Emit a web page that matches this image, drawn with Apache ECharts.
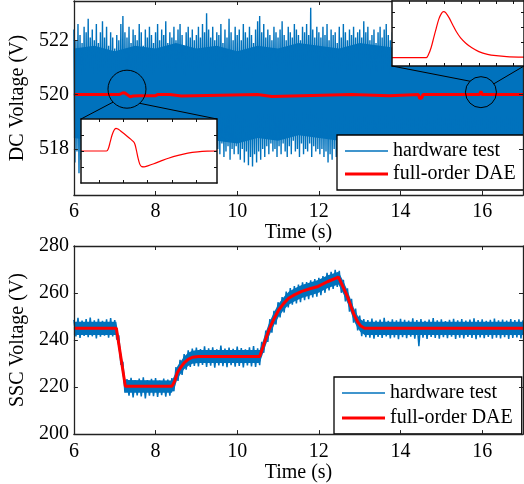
<!DOCTYPE html>
<html><head><meta charset="utf-8">
<script src="https://cdn.jsdelivr.net/npm/echarts@6/dist/echarts.min.js"></script>
<style>html,body{margin:0;padding:0;background:#fff}#c{width:524px;height:484px}</style>
</head><body><div id="c"></div>
<script>
// ---------- DATA ----------
// DC plot: envelope samples of the noisy hardware-test signal, one every 0.05 s from 6.0 s to 17.0 s
const dcStart = 6, dcStep = 0.05;
const dcHigh = [
  522.4,522.0,522.6,522.2,521.9,522.5,522.3,522.8,522.1,522.4,522.0,522.6,521.9,522.3,522.7,522.1,522.5,521.8,522.3,522.1,
  521.7,522.2,522.0,522.6,522.9,522.3,522.1,522.5,521.9,522.4,522.2,522.0,522.6,522.3,521.8,522.4,522.1,522.5,522.2,521.9,
  522.3,522.6,522.0,522.4,522.2,522.7,521.9,522.3,522.1,522.5,522.0,522.4,522.6,522.2,521.8,522.3,522.5,522.1,522.4,522.0,
  522.2,522.5,522.1,522.6,522.3,523.0,522.4,522.1,522.5,522.0,522.3,522.2,522.6,521.9,522.4,522.1,522.8,522.3,522.0,522.5,
  522.2,522.4,522.0,522.6,522.3,522.1,522.5,522.2,521.9,522.4,522.7,522.9,522.3,522.6,522.1,522.4,522.2,522.0,522.5,522.3,
  522.1,522.4,522.7,522.2,522.0,522.5,522.3,522.1,522.6,522.4,522.2,522.0,522.5,522.3,522.6,522.2,523.2,522.4,522.1,522.5,
  522.3,522.1,522.5,522.2,522.6,522.0,522.4,522.2,522.3,521.9,522.5,522.1,522.6,522.3,522.0,522.4,522.2,522.5,522.1,522.3,
  522.4,522.1,522.7,522.3,522.5,522.0,522.2,522.4,521.9,522.3,522.5,522.1,522.4,522.6,522.2,522.0,522.3,522.5,522.1,522.4,
  522.2,522.5,522.0,522.4,522.3,522.6,522.1,522.3,522.0,522.5,522.2,522.4,522.1,522.6,522.3,522.0,522.4,522.2,522.5,522.1,
  522.3,522.0,522.4,522.2,522.6,522.1,522.3,522.5,522.0,522.4,522.2,522.6,522.1,522.3,522.0,522.5,522.2,522.4,522.1,522.3,
  522.4,522.1,522.5,522.2,522.6,522.0,522.3,522.4,522.1,522.5,522.2,522.0,522.4,522.3,522.1,522.5,522.2,522.4,522.0,522.3,
  522.2];
const dcLow = [
  517.5,517.9,517.1,517.6,518.0,517.4,517.8,517.6,518.1,517.5,517.8,517.4,517.9,517.6,517.7,518.0,517.5,517.8,517.6,517.9,
  517.7,517.5,517.9,517.6,517.8,517.4,517.9,517.7,517.5,517.8,517.6,517.9,517.5,517.7,517.8,517.6,517.9,517.5,517.7,517.8,
  517.6,517.9,517.5,517.8,517.7,517.4,517.9,517.6,517.8,517.5,517.7,517.9,517.6,517.8,517.5,517.7,517.9,517.6,517.8,517.7,
  517.6,517.9,518.1,517.8,517.6,518.0,517.7,518.2,517.9,517.6,518.0,517.8,518.2,517.7,517.9,518.1,517.6,518.0,517.8,518.1,
  517.8,517.6,518.0,517.5,517.9,517.4,517.7,517.35,517.8,517.5,517.9,517.6,518.0,517.7,518.1,517.8,518.2,517.9,518.0,517.7,
  518.1,517.8,518.2,517.9,517.7,518.1,517.8,518.3,517.9,518.0,517.7,518.2,517.8,518.0,517.9,518.2,517.7,518.1,517.9,518.0,
  517.8,518.0,517.7,517.9,517.5,517.8,517.6,518.0,517.7,517.9,517.6,517.8,518.0,517.7,517.9,517.6,517.8,518.0,517.7,517.9,
  517.8,517.6,517.9,517.7,518.0,517.6,517.8,517.9,517.7,518.0,517.6,517.8,517.9,517.7,517.6,517.9,517.8,518.0,517.7,517.8,
  517.7,517.9,517.6,517.8,518.0,517.7,517.9,517.6,517.8,517.7,517.9,517.6,518.0,517.8,517.7,517.9,517.6,517.8,518.0,517.7,
  517.9,517.6,517.8,517.7,518.0,517.6,517.8,517.9,517.7,517.6,517.9,517.8,517.7,518.0,517.6,517.8,517.9,517.7,517.8,517.6,
  517.8,517.7,517.9,517.6,517.8,518.0,517.7,517.9,517.6,517.8,517.7,518.0,517.6,517.9,517.8,517.7,517.9,517.6,517.8,517.7,
  517.8];
// solid core of the DC noise band, one value every 0.5 s from 6.0 s to 17.0 s
const coreStart = 6, coreStep = 0.5;
const dcCoreHigh = [521.7,521.8,521.6,521.8,521.7,521.9,521.7,521.8,521.6,521.8,521.7,521.9,521.8,521.7,521.9,521.8,521.7,521.8,521.6,521.8,521.7,521.8,521.7];
const dcCoreLow = [518.4,518.3,518.5,518.3,518.4,518.3,518.5,518.3,518.2,518.4,518.3,518.5,518.4,518.3,518.5,518.4,518.5,518.3,518.4,518.3,518.4,518.5,518.4];
const dcModelT = [6,7.1,7.15,7.2,7.25,7.3,7.33,7.38,7.45,7.6,8.0,8.05,8.35,8.38,8.63,8.67,10.5,10.53,10.85,10.88,12.8,12.83,13.72,13.75,14.44,14.47,14.52,14.55,15.93,15.97,16.0,17];
const dcModelV = [520,520,520.03,520.07,520.06,520.0,519.93,519.92,519.95,519.96,519.96,520,520,519.95,519.95,520,520,519.93,519.93,520,520,519.96,519.96,520,520,519.85,519.88,520,520,520.12,520,520];

// SSC plot: envelope samples, one every 0.1 s from 6.0 s to 17.0 s
const sscStart = 6, sscStep = 0.1;
const sscHigh = [248.6,249.4,248.3,248.9,249.6,248.4,249.0,248.2,248.8,249.3,248.5,
  242.0,230.8,
  223.4,223.9,222.9,223.6,224.1,223.0,223.5,223.8,222.8,223.6,223.2,
  223.8,228.5,231.6,234.0,235.6,236.4,
  236.8,236.2,237.3,236.5,236.9,236.1,237.6,236.4,236.8,236.3,237.2,236.6,236.0,236.9,237.4,236.5,
  239.2,244.0,248.9,252.4,256.1,258.3,260.6,
  262.1,262.9,263.6,264.5,264.7,265.4,265.9,266.5,267.2,268.6,269.0,269.9,
  269.4,265.6,262.0,257.5,253.4,250.4,248.9,
  248.5,249.1,248.3,248.7,249.4,248.2,248.8,248.4,249.0,248.6,248.3,249.2,248.5,248.9,248.2,248.7,249.3,248.4,248.8,248.1,
  248.6,249.0,248.4,248.9,248.3,248.7,249.2,248.5,248.8,248.2,248.6,249.1,248.4,248.7,248.3,248.9,248.5,248.8,248.4];
const sscLow = [241.5,240.9,241.8,241.2,241.6,240.7,241.4,241.9,241.0,241.5,240.2,
  229.5,217.6,
  216.3,215.6,216.5,216.0,215.2,216.4,216.1,215.8,216.6,215.9,216.3,
  218.2,222.6,225.2,227.4,228.6,229.0,
  228.8,229.4,228.6,229.1,228.3,229.2,228.9,228.5,229.3,228.7,229.0,228.4,229.2,228.8,228.6,229.3,
  234.6,239.2,243.1,246.6,249.6,251.7,253.9,
  255.0,255.6,256.1,257.0,257.4,258.1,258.5,259.1,260.1,261.1,261.7,262.6,
  260.1,256.4,252.1,247.4,244.1,241.7,241.2,
  241.0,240.6,241.3,240.9,241.5,240.7,241.1,240.4,241.2,240.8,241.4,240.6,237.4,241.0,240.5,241.3,240.9,240.6,241.2,240.8,
  241.4,240.5,241.0,240.7,241.3,240.9,240.4,241.1,240.8,241.3,240.6,241.0,240.7,241.2,240.5,240.9,241.1,240.7,241.0];
const sscModelT = [6,7.04,7.26,8.4,8.47,8.53,8.6,8.7,8.8,8.9,9.05,10.55,10.62,10.7,10.78,10.9,11.02,11.14,11.26,11.4,11.58,11.78,11.98,12.22,12.48,12.6,12.7,12.86,12.95,13.02,13.12,17];
const sscModelV = [245,245,220.3,220.3,222.6,226,228,230.3,231.8,232.7,233,233,236.5,240.6,244.4,249,252.9,255.6,257.8,259.2,260.7,261.8,262.8,264.9,266.8,262.3,258.5,250.8,247.7,246.1,245,245];
// solid core of the SSC noise band, at the sscModelT instants
const sscCoreHigh = [247.8,247.8,223.0,222.8,225.2,228.8,230.6,233.0,234.6,235.4,235.8,235.8,239.2,243.4,247.2,251.8,255.6,258.3,260.5,261.9,263.4,264.5,265.5,267.6,269.0,265.0,261.2,253.5,250.4,248.8,247.8,247.8];
const sscCoreLow = [242.2,242.2,217.6,217.6,219.8,223.2,225.2,227.6,229.0,229.9,230.2,230.2,233.6,237.8,241.6,246.2,250.0,252.8,255.0,256.4,257.9,259.0,260.0,262.1,263.6,259.6,255.8,248.1,245.0,243.4,242.2,242.2];

// zoomed insets (relative units)
const zoomAX = [0,1.05,1.12,1.2,1.28,1.36,1.44,1.52,1.62,1.8,2.0,2.16,2.22,2.28,2.35,2.42,2.5,2.6,2.75,3.0,3.3,3.6,4.0,4.4,4.8,5.2,5.6];
const zoomAY = [0,0,0.12,0.55,1.0,1.3,1.42,1.38,1.27,1.05,0.8,0.58,0.42,0.05,-0.45,-0.82,-0.98,-0.99,-0.93,-0.8,-0.62,-0.45,-0.27,-0.13,-0.05,-0.01,0];
const zoomBX = [0,1.97,2.1,2.25,2.4,2.55,2.7,2.85,2.97,3.1,3.3,3.5,3.7,3.95,4.25,4.6,5.0,5.5,6.0,6.6,7.6];
const zoomBY = [0,0,0.2,0.65,1.3,1.95,2.55,2.92,3.03,2.95,2.6,2.15,1.72,1.3,0.95,0.65,0.4,0.22,0.13,0.07,0.03];

const timeMin = 6, timeMax = 17, timeInterval = 2;
const timeTicks = [6, 8, 10, 12, 14, 16];
const dcTicks = [518, 520, 522];
const sscMin = 200, sscMax = 280, sscInterval = 20;
const seriesNames = ['hardware test', 'full-order DAE'];
// annotation circles (data coordinates in the DC plot)
const circleA = [7.3, 520.2], circleB = [15.97, 520.09];

// ---------- BUILD ----------
function zigzag(hi, lo, start, step) {
  const out = [];
  for (let i = 0; i < hi.length; i++) {
    const t = start + i * step;
    out.push([+t.toFixed(4), hi[i]]);
    out.push([+(t + step / 2).toFixed(4), lo[i]]);
  }
  return out;
}
const pairs = (xs, ys) => xs.map((x, i) => [x, ys[i]]);
function bandPolygon(ts, hi, lo) {
  const pts = ts.map((t, i) => [t, hi[i]]);
  for (let i = ts.length - 1; i >= 0; i--) pts.push([ts[i], lo[i]]);
  return pts;
}
const coreTimes = dcCoreHigh.map((_, i) => coreStart + i * coreStep);

const FONT = 'Liberation Serif';
const BLUE = '#0072BD', RED = '#FF0000';
const txt = { fontFamily: FONT, fontSize: 20, color: '#000' };

function mainX(grid, pos, labels, name, gap, margin) {
  return {
    type: 'value', gridIndex: grid, position: pos, min: timeMin, max: timeMax, interval: timeInterval, z: 5,
    axisLine: { show: true, onZero: false, lineStyle: { color: '#222', width: 1.3 } },
    axisTick: { show: true, inside: true, length: 4, customValues: timeTicks, lineStyle: { color: '#222' } },
    axisLabel: { show: labels, margin: margin, customValues: timeTicks, ...txt },
    splitLine: { show: false },
    name: labels ? name : '', nameLocation: 'middle', nameGap: gap, nameTextStyle: txt
  };
}
function insetAxis(grid, pos, min, max, ticks) {
  return {
    type: 'value', gridIndex: grid, position: pos, min: min, max: max, z: 12,
    axisLine: { show: true, onZero: false, lineStyle: { color: '#111', width: 1.5 } },
    axisTick: { show: true, inside: true, length: 3, customValues: ticks, lineStyle: { color: '#111' } },
    axisLabel: { show: false }, splitLine: { show: false }
  };
}
const dcY = (pos, labels) => ({
  type: 'value', gridIndex: 0, position: pos, min: 516.3, max: 523.45, z: 5,
  axisLine: { show: true, onZero: false, lineStyle: { color: '#222', width: 1.3 } },
  axisTick: { show: true, inside: true, length: 4, customValues: dcTicks, lineStyle: { color: '#222' } },
  axisLabel: { show: labels, customValues: dcTicks, margin: 5, ...txt },
  splitLine: { show: false },
  name: labels ? 'DC Voltage (V)' : '', nameLocation: 'middle', nameGap: 40, nameTextStyle: txt
});
const sscY = (pos, labels) => ({
  type: 'value', gridIndex: 1, position: pos, min: sscMin, max: sscMax, interval: sscInterval, z: 5,
  axisLine: { show: true, onZero: false, lineStyle: { color: '#222', width: 1.3 } },
  axisTick: { show: true, inside: true, length: 4, lineStyle: { color: '#222' } },
  axisLabel: { show: labels, margin: 5, ...txt },
  splitLine: { show: false },
  name: labels ? 'SSC Voltage (V)' : '', nameLocation: 'middle', nameGap: 40, nameTextStyle: txt
});

function legendAt(left, top, gap) {
  return {
    left: left, top: top, orient: 'vertical', padding: [6, 9, 6, 8], itemGap: gap,
    itemWidth: 43, itemHeight: 14, backgroundColor: '#fff', borderColor: '#000', borderWidth: 1.3,
    textStyle: txt, selectedMode: false,
    data: [
      { name: seriesNames[0], icon: 'path://M0,0H43V1.3H0Z', itemStyle: { color: BLUE, borderWidth: 0 } },
      { name: seriesNames[1], icon: 'path://M0,0H43V3H0Z', itemStyle: { color: RED, borderWidth: 0 } }
    ]
  };
}

function bandSeries(xi, yi, pts) {
  return {
    type: 'custom', xAxisIndex: xi, yAxisIndex: yi, z: 1, silent: true,
    data: [pts[0]],
    renderItem: (params, api) => ({
      type: 'polygon',
      shape: { points: pts.map(p => api.coord(p)) },
      style: { fill: BLUE, stroke: null }
    })
  };
}

const chart = echarts.init(document.getElementById('c'), null, { renderer: 'canvas' });
const option = {
  animation: false,
  backgroundColor: '#fff',
  grid: [
    { left: 68, top: 1, width: 455, height: 194 },
    { left: 68, top: 246, width: 455, height: 189 },
    { left: 81, top: 119, width: 136, height: 64, show: true, z: 10, backgroundColor: '#fff', borderWidth: 0 },
    { left: 392, top: 1, width: 133, height: 65, show: true, z: 10, backgroundColor: '#fff', borderWidth: 0 }
  ],
  xAxis: [
    mainX(0, 'bottom', true, 'Time (s)', 24, 7),
    mainX(0, 'top', false, '', 0, 0),
    mainX(1, 'bottom', true, 'Time (s)', 25, 8),
    mainX(1, 'top', false, '', 0, 0),
    insetAxis(2, 'bottom', 0, 5.6, [0.74, 1.74, 2.74, 3.74, 4.74]),
    insetAxis(2, 'top', 0, 5.6, [0.74, 1.74, 2.74, 3.74, 4.74]),
    insetAxis(3, 'bottom', 0, 7.6, [1, 2, 3, 4, 5, 6, 7]),
    insetAxis(3, 'top', 0, 7.6, [1, 2, 3, 4, 5, 6, 7])
  ],
  yAxis: [
    dcY('left', true), dcY('right', false),
    sscY('left', true), sscY('right', false),
    insetAxis(2, 'left', -2, 2, [-1, 0, 1]),
    insetAxis(2, 'right', -2, 2, [-1, 0, 1]),
    insetAxis(3, 'left', -0.55, 3.73, [1, 2, 3]),
    insetAxis(3, 'right', -0.55, 3.73, [1, 2, 3])
  ],
  legend: [legendAt(337, 135, 3), legendAt(334, 377, 5)],
  series: [
    bandSeries(0, 0, bandPolygon(coreTimes, dcCoreHigh, dcCoreLow)),
    { name: seriesNames[0], type: 'line', xAxisIndex: 0, yAxisIndex: 0, data: zigzag(dcHigh, dcLow, dcStart, dcStep), symbol: 'none', z: 2,
      lineStyle: { color: BLUE, width: 1.4 }, itemStyle: { color: BLUE }, clip: true },
    { name: seriesNames[1], type: 'line', xAxisIndex: 0, yAxisIndex: 0, data: pairs(dcModelT, dcModelV), symbol: 'none', z: 3,
      lineStyle: { color: RED, width: 3 }, itemStyle: { color: RED }, clip: true },
    bandSeries(2, 2, bandPolygon(sscModelT, sscCoreHigh, sscCoreLow)),
    { name: seriesNames[0], type: 'line', xAxisIndex: 2, yAxisIndex: 2, data: zigzag(sscHigh, sscLow, sscStart, sscStep), symbol: 'none', z: 2,
      lineStyle: { color: BLUE, width: 1.5 }, itemStyle: { color: BLUE }, clip: true },
    { name: seriesNames[1], type: 'line', xAxisIndex: 2, yAxisIndex: 2, data: pairs(sscModelT, sscModelV), symbol: 'none', z: 3,
      lineStyle: { color: RED, width: 3 }, itemStyle: { color: RED }, clip: true },
    { type: 'line', xAxisIndex: 4, yAxisIndex: 4, data: pairs(zoomAX, zoomAY), symbol: 'none', z: 11, smooth: 0.3,
      lineStyle: { color: RED, width: 1.2 }, clip: true },
    { type: 'line', xAxisIndex: 6, yAxisIndex: 6, data: pairs(zoomBX, zoomBY), symbol: 'none', z: 11, smooth: 0.3,
      lineStyle: { color: RED, width: 1.2 }, clip: true }
  ]
};
chart.setOption(option);

// annotation circles + connector lines, positioned from data coordinates
const pA = chart.convertToPixel({ xAxisIndex: 0, yAxisIndex: 0 }, circleA);
const pB = chart.convertToPixel({ xAxisIndex: 0, yAxisIndex: 0 }, circleB);
const rA = 19, rB = 15.5;
const aTL = chart.convertToPixel({ xAxisIndex: 4, yAxisIndex: 4 }, [0, 2]);
const aTR = chart.convertToPixel({ xAxisIndex: 4, yAxisIndex: 4 }, [5.6, 2]);
const bBL = chart.convertToPixel({ xAxisIndex: 6, yAxisIndex: 6 }, [0, -0.55]);
const bBR = chart.convertToPixel({ xAxisIndex: 6, yAxisIndex: 6 }, [7.6, -0.55]);
const onCircle = (p, r, deg) => [p[0] + r * Math.cos(deg * Math.PI / 180), p[1] + r * Math.sin(deg * Math.PI / 180)];
const a1 = onCircle(pA, rA, 137), a2 = onCircle(pA, rA, 48);
const b1 = onCircle(pB, rB, 225), b2 = onCircle(pB, rB, -33);
const ln = (p, q) => ({ type: 'line', z: 20, silent: true, shape: { x1: p[0], y1: p[1], x2: q[0], y2: q[1] }, style: { stroke: '#000', lineWidth: 1 } });
const circ = (p, r) => ({ type: 'circle', z: 20, silent: true, shape: { cx: p[0], cy: p[1], r: r }, style: { fill: null, stroke: '#000', lineWidth: 1 } });
chart.setOption({ graphic: [circ(pA, rA), circ(pB, rB), ln(a1, aTL), ln(a2, aTR), ln(b1, bBL), ln(b2, bBR)] });
</script></body></html>
